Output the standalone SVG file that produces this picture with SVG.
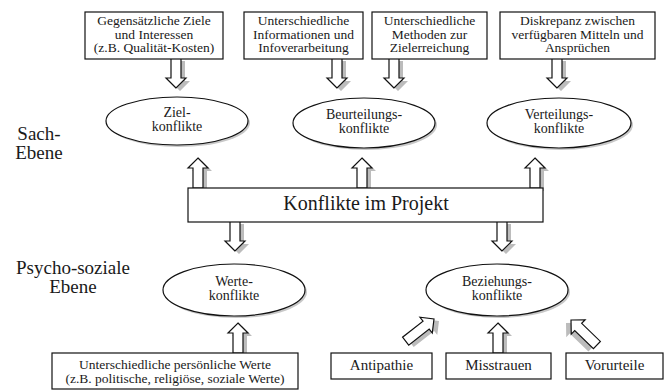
<svg xmlns="http://www.w3.org/2000/svg" width="669" height="392" viewBox="0 0 669 392" font-family="'Liberation Serif', 'DejaVu Serif', serif">
<style>
  .box{fill:#fff;stroke:#111;stroke-width:1.2}
  .ell{fill:#fff;stroke:#111;stroke-width:1.2}
  .esh{fill:#c8c8c8}
  .arr{fill:#fff;stroke:#111;stroke-width:1.2;stroke-linejoin:miter}
  .sh{fill:#bcbcbc}
  text{font-family:'Liberation Serif','DejaVu Serif',serif;fill:#1a1a1a;text-anchor:middle}
  .bt{font-size:13.5px}
  .et{font-size:14px}
  .lt{font-size:19px}
  .mt{font-size:20px}
  .st{font-size:15px}
</style>
<defs>
  <path id="up" d="M0,0 L10,10 L5,10 L5,30 L-5,30 L-5,10 L-10,10 Z"/>
  <path id="upL" d="M0,0 L10,10 L5,10 L5,36 L-5,36 L-5,10 L-10,10 Z"/>
</defs>

<rect width="669" height="392" fill="#fff"/>

<g id="labels">
  <text class="lt" x="39" y="140">Sach-</text>
  <text class="lt" x="39" y="159">Ebene</text>
  <text class="lt" x="73" y="274">Psycho-soziale</text>
  <text class="lt" x="73" y="293">Ebene</text>
</g>

<g id="connectors">
  <use href="#up" class="sh" transform="translate(180,91) rotate(180)"/>
  <use href="#up" class="arr" transform="translate(176,88) rotate(180)"/>
  <use href="#up" class="sh" transform="translate(341,91) rotate(180)"/>
  <use href="#up" class="arr" transform="translate(337,88) rotate(180)"/>
  <use href="#up" class="sh" transform="translate(398,91) rotate(180)"/>
  <use href="#up" class="arr" transform="translate(394,88) rotate(180)"/>
  <use href="#up" class="sh" transform="translate(561,91) rotate(180)"/>
  <use href="#up" class="arr" transform="translate(557,88) rotate(180)"/>
  <use href="#up" class="sh" transform="translate(202,161)"/>
  <use href="#up" class="arr" transform="translate(198,158)"/>
  <use href="#up" class="sh" transform="translate(366,161)"/>
  <use href="#up" class="arr" transform="translate(362,158)"/>
  <use href="#up" class="sh" transform="translate(539,161)"/>
  <use href="#up" class="arr" transform="translate(535,158)"/>
  <use href="#up" class="sh" transform="translate(239,254) rotate(180)"/>
  <use href="#up" class="arr" transform="translate(235,251) rotate(180)"/>
  <use href="#up" class="sh" transform="translate(506,254) rotate(180)"/>
  <use href="#up" class="arr" transform="translate(502,251) rotate(180)"/>
  <use href="#up" class="sh" transform="translate(242,326)"/>
  <use href="#up" class="arr" transform="translate(238,323)"/>
  <use href="#up" class="sh" transform="translate(502,326)"/>
  <use href="#up" class="arr" transform="translate(498,323)"/>
  <use href="#upL" class="sh" transform="translate(439,321) rotate(52)"/>
  <use href="#upL" class="arr" transform="translate(434,319) rotate(52)"/>
  <use href="#upL" class="sh" transform="translate(566,323) rotate(-46)"/>
  <use href="#upL" class="arr" transform="translate(571,320) rotate(-46)"/>
</g>

<g id="box-gegensaetzlich">
  <rect class="box" x="85" y="12" width="138" height="47"/>
  <text class="bt" x="154" y="25">Gegensätzliche Ziele</text>
  <text class="bt" x="154" y="38.5">und Interessen</text>
  <text class="bt" x="154" y="52">(z.B. Qualität-Kosten)</text>
</g>
<g id="box-informationen">
  <rect class="box" x="244" y="12" width="119" height="47"/>
  <text class="bt" x="303.5" y="25">Unterschiedliche</text>
  <text class="bt" x="303.5" y="38.5">Informationen und</text>
  <text class="bt" x="303.5" y="52">Infoverarbeitung</text>
</g>
<g id="box-methoden">
  <rect class="box" x="372" y="12" width="115" height="47"/>
  <text class="bt" x="429.5" y="25">Unterschiedliche</text>
  <text class="bt" x="429.5" y="38.5">Methoden zur</text>
  <text class="bt" x="429.5" y="52">Zielerreichung</text>
</g>
<g id="box-diskrepanz">
  <rect class="box" x="500" y="12" width="155" height="47"/>
  <text class="bt" x="577.5" y="25">Diskrepanz zwischen</text>
  <text class="bt" x="577.5" y="38.5">verfügbaren Mitteln und</text>
  <text class="bt" x="577.5" y="52">Ansprüchen</text>
</g>

<g id="ell-ziel">
  <ellipse class="esh" cx="179" cy="123" rx="71" ry="24"/>
  <ellipse class="ell" cx="177" cy="121" rx="71" ry="24"/>
  <text class="et" x="177" y="117">Ziel-</text>
  <text class="et" x="177" y="131">konflikte</text>
</g>
<g id="ell-beurteilung">
  <ellipse class="esh" cx="366" cy="125" rx="71" ry="25"/>
  <ellipse class="ell" cx="364" cy="123" rx="71" ry="25"/>
  <text class="et" x="364" y="119">Beurteilungs-</text>
  <text class="et" x="364" y="133">konflikte</text>
</g>
<g id="ell-verteilung">
  <ellipse class="esh" cx="561" cy="125" rx="72" ry="25"/>
  <ellipse class="ell" cx="559" cy="123" rx="72" ry="25"/>
  <text class="et" x="559" y="119">Verteilungs-</text>
  <text class="et" x="559" y="133">konflikte</text>
</g>

<g id="box-projekt">
  <rect class="box" x="188" y="188" width="355" height="34"/>
  <text class="mt" x="366" y="210">Konflikte im Projekt</text>
</g>

<g id="ell-werte">
  <ellipse class="esh" cx="236" cy="292" rx="71" ry="26"/>
  <ellipse class="ell" cx="234" cy="290" rx="71" ry="26"/>
  <text class="et" x="234" y="286">Werte-</text>
  <text class="et" x="234" y="300">konflikte</text>
</g>
<g id="ell-beziehung">
  <ellipse class="esh" cx="499" cy="292" rx="71" ry="26"/>
  <ellipse class="ell" cx="497" cy="290" rx="71" ry="26"/>
  <text class="et" x="497" y="286">Beziehungs-</text>
  <text class="et" x="497" y="300">konflikte</text>
</g>

<g id="box-werte">
  <rect class="box" x="52" y="353" width="246" height="36"/>
  <text class="bt" x="175" y="368.5">Unterschiedliche persönliche Werte</text>
  <text class="bt" x="175" y="382.5">(z.B. politische, religiöse, soziale Werte)</text>
</g>
<g id="box-antipathie">
  <rect class="box" x="331" y="353" width="101" height="26"/>
  <text class="st" x="381.5" y="370">Antipathie</text>
</g>
<g id="box-misstrauen">
  <rect class="box" x="446" y="353" width="105" height="26"/>
  <text class="st" x="498.5" y="370">Misstrauen</text>
</g>
<g id="box-vorurteile">
  <rect class="box" x="566" y="353" width="97" height="26"/>
  <text class="st" x="614.5" y="370">Vorurteile</text>
</g>
</svg>
